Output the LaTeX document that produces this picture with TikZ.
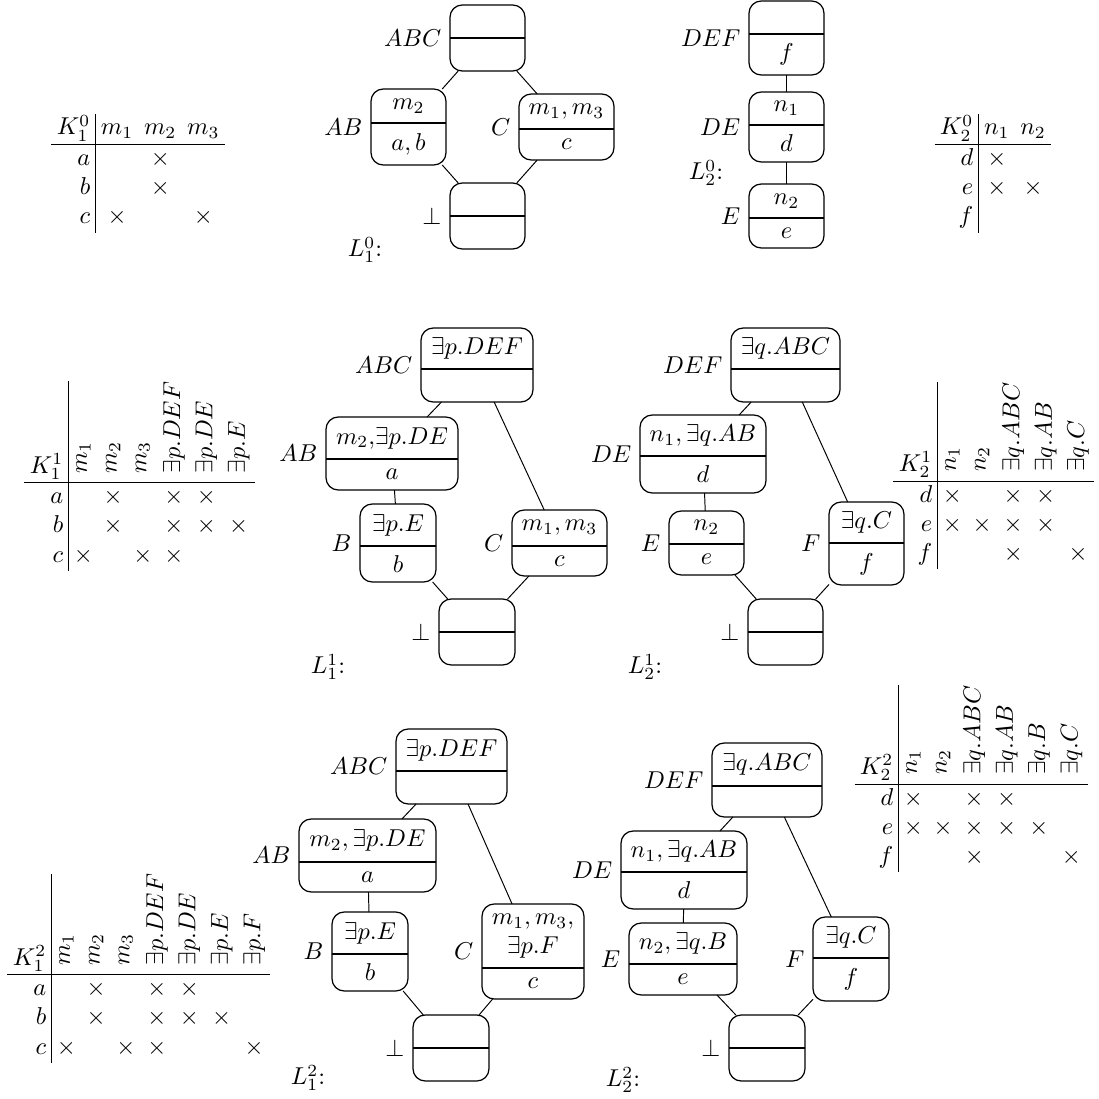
\documentclass[tikz,border=0pt]{standalone}
\usepackage{graphicx}
\setlength{\tabcolsep}{2.2pt}
\newcommand{\rothead}[1]{\rotatebox{90}{$#1$}}
\tikzset{
  cbox/.style={draw, rounded corners=5pt, line width=0.5pt, inner sep=0pt, outer sep=0pt, label distance=1.5pt},
  splitline/.style={line width=0.5pt},
  ctext/.style={inner sep=0pt},
  conn/.style={line width=0.4pt},
  tbl/.style={anchor=north west, inner sep=0pt},
  lname/.style={inner sep=0pt}
}
% name, x1, y1, x2, y2, ysplit, top text, bottom text, label
\newcommand{\cbx}[9]{%
  \node[cbox, minimum width={(#4-#2)*0.41pt}, minimum height={(#5-#3)*0.41pt}, label={left:#9}] (#1) at ({(#2+#4)/2},{(#3+#5)/2}) {};
  \draw[splitline] (#2,#6) -- (#4,#6);
  \node[ctext] (#1-t) at ({(#2+#4)/2},{(#3+#6)/2}) {#7};
  \node[ctext] (#1-b) at ({(#2+#4)/2},{(#6+#5)/2}) {#8};
}
\begin{document}
\begin{tikzpicture}[x=0.41pt,y=-0.41pt]
\useasboundingbox (0,0) rectangle (1099,1099);

% ---------- row 0 ----------
\node[tbl] (K10) at (51,114) {\begin{tabular}{r|ccc}
$K_1^0$ & $m_1$ & $m_2$ & $m_3$\\ \hline
$a$ & & $\times$ & \\
$b$ & & $\times$ & \\
$c$ & $\times$ & & $\times$
\end{tabular}};

\cbx{a0ABC}{450}{5}{525}{71}{38}{}{}{$ABC$}
\cbx{a0AB}{371}{89}{446}{165}{123}{$m_2$}{$a,b$}{$AB$}
\cbx{a0C}{519}{94}{614}{160}{129}{$m_1,m_3$}{$c$}{$C$}
\cbx{a0bot}{450}{183}{525}{249}{216}{}{}{$\bot$}
\node[lname] (L10) at (365,250) {$L_1^0$:};
\draw[conn] (a0ABC) -- (a0AB);
\draw[conn] (a0ABC) -- (a0C);
\draw[conn] (a0AB) -- (a0bot);
\draw[conn] (a0C) -- (a0bot);

\cbx{b0DEF}{749}{1}{824}{75}{34}{}{$f$}{$DEF$}
\cbx{b0DE}{749}{92}{824}{162}{125}{$n_1$}{$d$}{$DE$}
\cbx{b0E}{749}{184}{824}{248}{218}{$n_2$}{$e$}{$E$}
\node[lname] (L20) at (706,173) {$L_2^0$:};
\draw[conn] (b0DEF) -- (b0DE);
\draw[conn] (b0DE) -- (b0E);

\node[tbl] (K20) at (934,114) {\begin{tabular}{r|cc}
$K_2^0$ & $n_1$ & $n_2$\\ \hline
$d$ & $\times$ & \\
$e$ & $\times$ & $\times$\\
$f$ & & 
\end{tabular}};

% ---------- row 1 ----------
\node[tbl] (K11) at (24,381) {\begin{tabular}{r|cccccc}
$K_1^1$ & \rothead{m_1} & \rothead{m_2} & \rothead{m_3} & \rothead{\exists p.DEF} & \rothead{\exists p.DE} & \rothead{\exists p.E}\\ \hline
$a$ & & $\times$ & & $\times$ & $\times$ & \\
$b$ & & $\times$ & & $\times$ & $\times$ & $\times$\\
$c$ & $\times$ & & $\times$ & $\times$ & & 
\end{tabular}};

\cbx{c1ABC}{421}{328}{533}{402}{369}{$\exists p.DEF$}{}{$ABC$}
\cbx{c1AB}{326}{417}{458}{490}{459}{$m_2{,}\exists p.DE$}{$a$}{$AB$}
\cbx{c1B}{360}{504}{436}{582}{546}{$\exists p.E$}{$b$}{$B$}
\cbx{c1C}{512}{510}{607}{576}{546}{$m_1,m_3$}{$c$}{$C$}
\cbx{c1bot}{439}{599}{515}{665}{632}{}{}{$\bot$}
\node[lname] (L11) at (328,667) {$L_1^1$:};
\draw[conn] (c1ABC) -- (c1AB);
\draw[conn] (c1ABC) -- (c1C);
\draw[conn] (c1AB) -- (c1B);
\draw[conn] (c1B) -- (c1bot);
\draw[conn] (c1C) -- (c1bot);

\cbx{d1DEF}{731}{328}{840}{402}{369}{$\exists q.ABC$}{}{$DEF$}
\cbx{d1DE}{640}{415}{766}{493}{456}{$n_1,\exists q.AB$}{$d$}{$DE$}
\cbx{d1E}{669}{511}{744}{575}{544}{$n_2$}{$e$}{$E$}
\cbx{d1F}{829}{502}{904}{585}{543}{$\exists q.C$}{$f$}{$F$}
\cbx{d1bot}{748}{599}{823}{665}{632}{}{}{$\bot$}
\node[lname] (L21) at (645,667) {$L_2^1$:};
\draw[conn] (d1DEF) -- (d1DE);
\draw[conn] (d1DEF) -- (d1F);
\draw[conn] (d1DE) -- (d1E);
\draw[conn] (d1E) -- (d1bot);
\draw[conn] (d1F) -- (d1bot);

\node[tbl] (K21) at (893,382) {\begin{tabular}{r|ccccc}
$K_2^1$ & \rothead{n_1} & \rothead{n_2} & \rothead{\exists q.ABC} & \rothead{\exists q.AB} & \rothead{\exists q.C}\\ \hline
$d$ & $\times$ & & $\times$ & $\times$ & \\
$e$ & $\times$ & $\times$ & $\times$ & $\times$ & \\
$f$ & & & $\times$ & & $\times$
\end{tabular}};

% ---------- row 2 ----------
\node[tbl] (K12) at (7,873) {\begin{tabular}{r|ccccccc}
$K_1^2$ & \rothead{m_1} & \rothead{m_2} & \rothead{m_3} & \rothead{\exists p.DEF} & \rothead{\exists p.DE} & \rothead{\exists p.E} & \rothead{\exists p.F}\\ \hline
$a$ & & $\times$ & & $\times$ & $\times$ & & \\
$b$ & & $\times$ & & $\times$ & $\times$ & $\times$ & \\
$c$ & $\times$ & & $\times$ & $\times$ & & & $\times$
\end{tabular}};

\cbx{e2ABC}{396}{729}{507}{804}{771}{$\exists p.DEF$}{}{$ABC$}
\cbx{e2AB}{299}{819}{436}{892}{862}{$m_2,\exists p.DE$}{$a$}{$AB$}
\cbx{e2B}{332}{912}{408}{991}{954}{$\exists p.E$}{$b$}{$B$}
\cbx{e2C}{482}{904}{584}{999}{968}{\shortstack{$m_1,m_3,$\\$\exists p.F$}}{$c$}{$C$}
\cbx{e2bot}{413}{1015}{489}{1081}{1048}{}{}{$\bot$}
\node[lname] (L12) at (308,1078) {$L_1^2$:};
\draw[conn] (e2ABC) -- (e2AB);
\draw[conn] (e2ABC) -- (e2C);
\draw[conn] (e2AB) -- (e2B);
\draw[conn] (e2B) -- (e2bot);
\draw[conn] (e2C) -- (e2bot);

\cbx{f2DEF}{712}{743}{822}{817}{786}{$\exists q.ABC$}{}{$DEF$}
\cbx{f2DE}{621}{831}{747}{909}{872}{$n_1,\exists q.AB$}{$d$}{$DE$}
\cbx{f2E}{629}{923}{737}{995}{964}{$n_2,\exists q.B$}{$e$}{$E$}
\cbx{f2F}{813}{917}{889}{1001}{958}{$\exists q.C$}{$f$}{$F$}
\cbx{f2bot}{729}{1015}{805}{1081}{1048}{}{}{$\bot$}
\node[lname] (L22) at (623,1080) {$L_2^2$:};
\draw[conn] (f2DEF) -- (f2DE);
\draw[conn] (f2DEF) -- (f2F);
\draw[conn] (f2DE) -- (f2E);
\draw[conn] (f2E) -- (f2bot);
\draw[conn] (f2F) -- (f2bot);

\node[tbl] (K22) at (854,685) {\begin{tabular}{r|cccccc}
$K_2^2$ & \rothead{n_1} & \rothead{n_2} & \rothead{\exists q.ABC} & \rothead{\exists q.AB} & \rothead{\exists q.B} & \rothead{\exists q.C}\\ \hline
$d$ & $\times$ & & $\times$ & $\times$ & & \\
$e$ & $\times$ & $\times$ & $\times$ & $\times$ & $\times$ & \\
$f$ & & & $\times$ & & & $\times$
\end{tabular}};

\end{tikzpicture}
\end{document}
